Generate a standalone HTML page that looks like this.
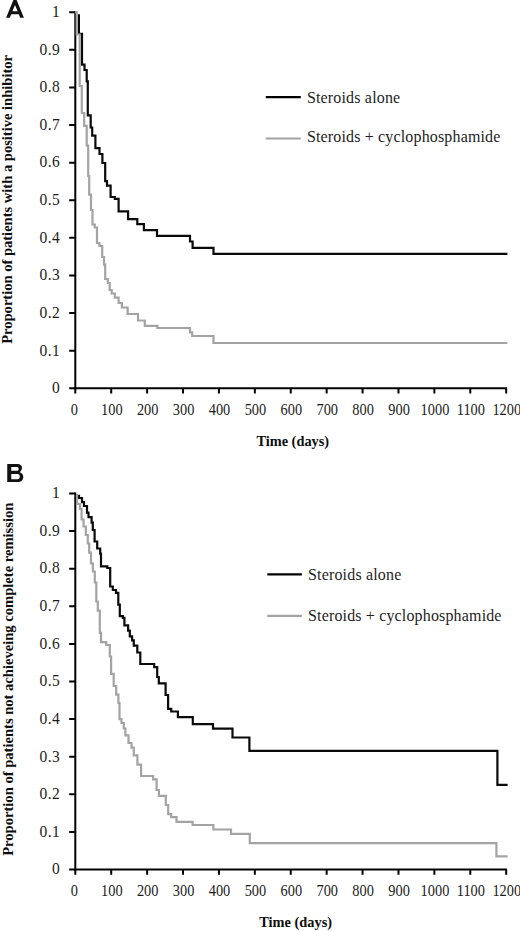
<!DOCTYPE html>
<html>
<head>
<meta charset="utf-8">
<style>
html,body{margin:0;padding:0;background:#fff;}
body{width:520px;height:931px;overflow:hidden;}
svg{display:block;}
.n{font-family:"Liberation Serif",serif;fill:#1c1c1c;}
.b{font-family:"Liberation Serif",serif;font-weight:bold;fill:#0d0d0d;}
.lg{font-family:"Liberation Serif",serif;fill:#1e1e1e;}
</style>
</head>
<body>
<svg width="520" height="931" viewBox="0 0 520 931">
<rect x="0" y="0" width="520" height="931" fill="#fff"/>
<path fill="#111" fill-rule="evenodd" d="M13.6 -0.5L16.4 -0.5L23.9 17.8L20.2 17.8L18.77 14.3L11.24 14.3L9.8 17.8L6.1 17.8ZM15 4.9L17.6 11.3L12.4 11.3Z"/>
<path fill="#111" fill-rule="evenodd" d="M7.25 464H17.5C20.5 464 22 465.8 22 467.7C22 469.4 21.1 470.7 19.7 472.2C22 472.8 23.3 474.8 23.3 477C23.3 480 21 482 17.8 482H7.25ZM11.25 467H17.1C18.2 467 18.6 467.9 18.6 468.9C18.6 469.9 18.1 470.75 17.1 470.75H11.25ZM11.25 474H17.8C19.2 474 19.8 475.3 19.8 476.6C19.8 478 19 479.25 17.8 479.25H11.25Z"/>
<!-- ===== PANEL A ===== -->
<g stroke="#000" stroke-width="2" fill="none">
<path d="M75.3 11.15V389.35"/>
<path d="M69.2 388.35H507"/>
<path d="M69.2 350.73H75.3M69.2 313.11H75.3M69.2 275.49H75.3M69.2 237.87H75.3M69.2 200.25H75.3M69.2 162.63H75.3M69.2 125.01H75.3M69.2 87.39H75.3M69.2 49.77H75.3M69.2 12.15H75.3"/>
<path d="M75.3 388.35V393.45M111.21 388.35V393.45M147.12 388.35V393.45M183.02 388.35V393.45M218.93 388.35V393.45M254.84 388.35V393.45M290.75 388.35V393.45M326.66 388.35V393.45M362.56 388.35V393.45M398.47 388.35V393.45M434.38 388.35V393.45M470.29 388.35V393.45M506.2 388.35V393.45"/>
</g>
<g class="n" text-anchor="end" font-size="15.5">
<text transform="translate(59.7 393.15) scale(1 1.04)">0</text>
<text textLength="20.2" transform="translate(59.7 355.53) scale(1 1.04)">0.1</text>
<text textLength="20.2" transform="translate(59.7 317.91) scale(1 1.04)">0.2</text>
<text textLength="20.2" transform="translate(59.7 280.29) scale(1 1.04)">0.3</text>
<text textLength="20.2" transform="translate(59.7 242.67) scale(1 1.04)">0.4</text>
<text textLength="20.2" transform="translate(59.7 205.05) scale(1 1.04)">0.5</text>
<text textLength="20.2" transform="translate(59.7 167.43) scale(1 1.04)">0.6</text>
<text textLength="20.2" transform="translate(59.7 129.81) scale(1 1.04)">0.7</text>
<text textLength="20.2" transform="translate(59.7 92.19) scale(1 1.04)">0.8</text>
<text textLength="20.2" transform="translate(59.7 54.57) scale(1 1.04)">0.9</text>
<text transform="translate(59.7 16.95) scale(1 1.04)">1</text>
</g>
<g class="n" text-anchor="middle" font-size="14.4">
<text transform="translate(74.4 414.7) scale(1 1.11)">0</text>
<text transform="translate(111.81 414.7) scale(1 1.11)">100</text>
<text transform="translate(147.72 414.7) scale(1 1.11)">200</text>
<text transform="translate(183.62 414.7) scale(1 1.11)">300</text>
<text transform="translate(219.53 414.7) scale(1 1.11)">400</text>
<text transform="translate(255.44 414.7) scale(1 1.11)">500</text>
<text transform="translate(291.35 414.7) scale(1 1.11)">600</text>
<text transform="translate(327.26 414.7) scale(1 1.11)">700</text>
<text transform="translate(363.16 414.7) scale(1 1.11)">800</text>
<text transform="translate(399.07 414.7) scale(1 1.11)">900</text>
<text transform="translate(434.98 414.7) scale(1 1.11)">1000</text>
<text transform="translate(470.89 414.7) scale(1 1.11)">1100</text>
<text transform="translate(506.8 414.7) scale(1 1.11)">1200</text>
</g>
<text class="b" font-size="14" transform="translate(256.4 445.8) scale(1.027 1.1)">Time (days)</text>
<text class="b" font-size="14.5" textLength="288.8" lengthAdjust="spacingAndGlyphs" transform="translate(11.8 343.8) rotate(-90) scale(1 1.05)">Proportion of patients with a positive inhibitor</text>
<path d="M265.8 97.1H300.8" stroke="#000" stroke-width="2.2" fill="none"/>
<text class="lg" font-size="16" x="306.9" y="102.6" textLength="93.3" transform="translate(0 102.6) scale(1 1.03) translate(0 -102.6)">Steroids alone</text>
<path d="M265.8 138.5H300.8" stroke="#a3a3a3" stroke-width="2.2" fill="none"/>
<text class="lg" font-size="16" x="306.9" y="142.5" textLength="193.5" transform="translate(0 142.5) scale(1 1.03) translate(0 -142.5)">Steroids + cyclophosphamide</text>
<path fill="none" stroke="#0a0a0a" stroke-width="2.2" d="M78.9 14.2V33.8H82V64.7H84.5V70H86.7V81.3H87.8V115.4H90.7V127.5H92.2V135.6H95.4V148.2H99.5V154H102.4V163H105.2V181.2H107V185.7H110.6V197H114.8V198.8H118.6V211.3H128.1V219.1H137.3V224.2H143.9V230.2H157V235.8H190V241.5H192.6V247.8H213.5V253.9H507.4"/>
<path fill="none" stroke="#a3a3a3" stroke-width="2.2" d="M75 12.15H76.7V34.5H79.7V86H81.8V113H84.2V125.8H86.7V145.7H88.2V176H89.2V194.6H91V210H92.5V224.5H94.8V227.5H97V243H99.4V246H102.2V257H104V264.6H105.2V279H107.8V283H109.7V290H111.7V293.5H114.8V297.7H118.6V303H121.9V307.5H127.6V314H138V320.5H144.8V325.8H157.4V328H190V332.4H192.2V336H213.5V343H507.3"/>
<!-- ===== PANEL B ===== -->
<g stroke="#000" stroke-width="2" fill="none">
<path d="M75.3 492.4V870.6"/>
<path d="M69.2 869.6H507"/>
<path d="M69.2 831.98H75.3M69.2 794.36H75.3M69.2 756.74H75.3M69.2 719.12H75.3M69.2 681.5H75.3M69.2 643.88H75.3M69.2 606.26H75.3M69.2 568.64H75.3M69.2 531.02H75.3M69.2 493.4H75.3"/>
<path d="M75.3 869.6V874.7M111.21 869.6V874.7M147.12 869.6V874.7M183.02 869.6V874.7M218.93 869.6V874.7M254.84 869.6V874.7M290.75 869.6V874.7M326.66 869.6V874.7M362.56 869.6V874.7M398.47 869.6V874.7M434.38 869.6V874.7M470.29 869.6V874.7M506.2 869.6V874.7"/>
</g>
<g class="n" text-anchor="end" font-size="15.5">
<text transform="translate(59.7 874.4) scale(1 1.04)">0</text>
<text textLength="20.2" transform="translate(59.7 836.78) scale(1 1.04)">0.1</text>
<text textLength="20.2" transform="translate(59.7 799.16) scale(1 1.04)">0.2</text>
<text textLength="20.2" transform="translate(59.7 761.54) scale(1 1.04)">0.3</text>
<text textLength="20.2" transform="translate(59.7 723.92) scale(1 1.04)">0.4</text>
<text textLength="20.2" transform="translate(59.7 686.3) scale(1 1.04)">0.5</text>
<text textLength="20.2" transform="translate(59.7 648.68) scale(1 1.04)">0.6</text>
<text textLength="20.2" transform="translate(59.7 611.06) scale(1 1.04)">0.7</text>
<text textLength="20.2" transform="translate(59.7 573.44) scale(1 1.04)">0.8</text>
<text textLength="20.2" transform="translate(59.7 535.82) scale(1 1.04)">0.9</text>
<text transform="translate(59.7 498.2) scale(1 1.04)">1</text>
</g>
<g class="n" text-anchor="middle" font-size="14.4">
<text transform="translate(74.4 895.6) scale(1 1.11)">0</text>
<text transform="translate(111.81 895.6) scale(1 1.11)">100</text>
<text transform="translate(147.72 895.6) scale(1 1.11)">200</text>
<text transform="translate(183.62 895.6) scale(1 1.11)">300</text>
<text transform="translate(219.53 895.6) scale(1 1.11)">400</text>
<text transform="translate(255.44 895.6) scale(1 1.11)">500</text>
<text transform="translate(291.35 895.6) scale(1 1.11)">600</text>
<text transform="translate(327.26 895.6) scale(1 1.11)">700</text>
<text transform="translate(363.16 895.6) scale(1 1.11)">800</text>
<text transform="translate(399.07 895.6) scale(1 1.11)">900</text>
<text transform="translate(434.98 895.6) scale(1 1.11)">1000</text>
<text transform="translate(470.89 895.6) scale(1 1.11)">1100</text>
<text transform="translate(506.8 895.6) scale(1 1.11)">1200</text>
</g>
<text class="b" font-size="14" transform="translate(259.3 927.2) scale(1.027 1.1)">Time (days)</text>
<text class="b" font-size="14.8" textLength="353.2" lengthAdjust="spacingAndGlyphs" transform="translate(12.8 855.8) rotate(-90) scale(1 1.05)">Proportion of patients not achieveing complete remission</text>
<path d="M267.3 574.4H301.9" stroke="#000" stroke-width="2.2" fill="none"/>
<text class="lg" font-size="16" x="308" y="580.2" textLength="93.3" transform="translate(0 580.2) scale(1 1.03) translate(0 -580.2)">Steroids alone</text>
<path d="M267.3 615.8H301.9" stroke="#a3a3a3" stroke-width="2.2" fill="none"/>
<text class="lg" font-size="16" x="308" y="620.8" textLength="193.5" transform="translate(0 620.8) scale(1 1.03) translate(0 -620.8)">Steroids + cyclophosphamide</text>
<path fill="none" stroke="#0a0a0a" stroke-width="2.2" d="M79 494.8V498H82V502.2H84V506H87V512.6H88.5V517.2H91.6V522.6H92.8V530H94.6V541.5H97.2V548.5H100.2V553.7H101V566.3H107.3V568H110.2V586.5H112.8V590H116V592.9H118.3V604.6H119.8V616.2H122.9V617.9H124.4V625.4H128.1V630.6H129.8V636.3H132.1V640.4H133.8V645.6H137.3V652.5H140.3V664H154.2V667.2H157.2V677H158.8V683.4H165.6V695H168.1V708.8H171.2V711.5H177.9V717.2H192.8V724.2H213V728.7H232.5V737.5H249.4V750.9H497.4V784.9H507.6"/>
<path fill="none" stroke="#a3a3a3" stroke-width="2.2" d="M77 494V504H80V508.8H81.6V519.5H83.5V526.5H85.8V535H87.8V543.5H89.2V552.7H91V563.5H92.9V571.5H94.8V582.5H96.3V601.5H97.8V610.6H99.8V632.9H101V642.1H106.2V645H109.8V656.5H111.1V673.8H113.7V686H116.2V694.6H118.4V703H119.5V719.2H121.5V723H123.8V728.5H125.4V735.4H128.5V743H131.5V747.7H133.8V755.4H137.4V764.6H141.1V776H153.2V779.4H156.6V790H158.9V795.8H165.8V805H168.2V814.2H171.2V817.2H176.5V821.8H192.6V825H213.4V829.5H231V833.8H249.8V843.1H496.4V856.4H507.6"/>
</svg>
</body>
</html>
